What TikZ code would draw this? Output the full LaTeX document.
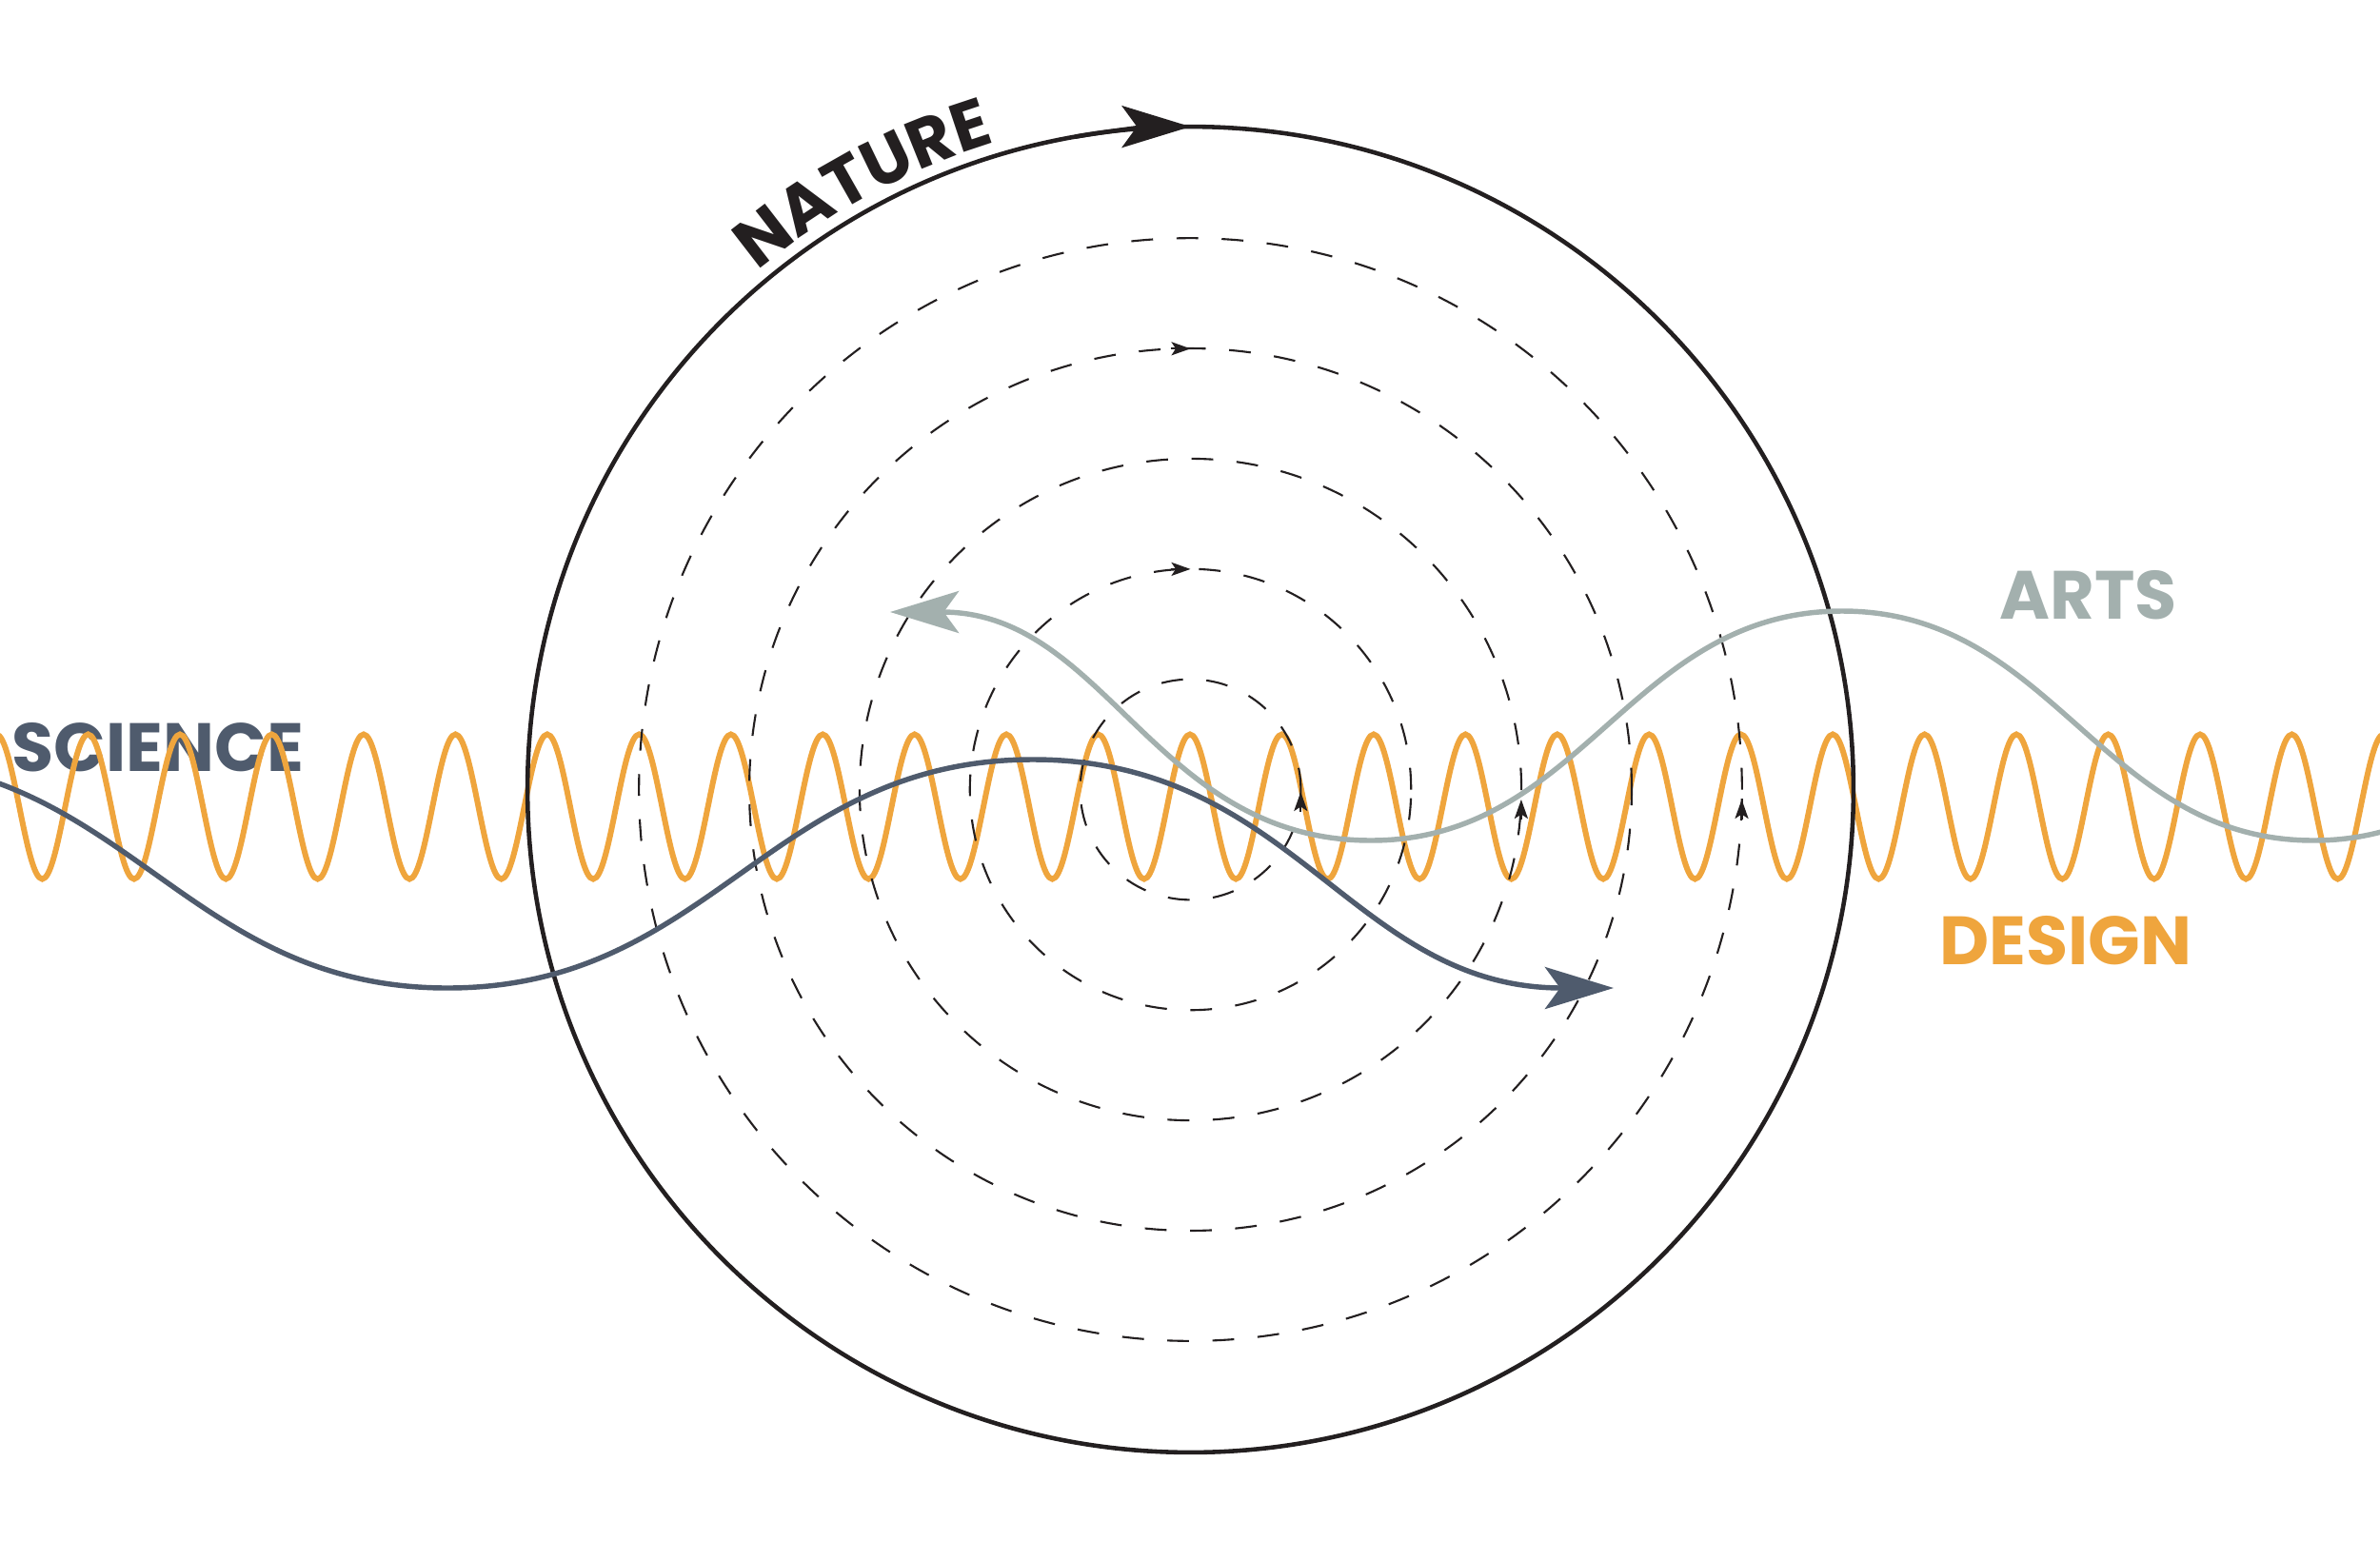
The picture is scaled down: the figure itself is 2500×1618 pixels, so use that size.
\documentclass[tikz,border=0pt]{standalone}
\usepackage{fontspec}
\setmainfont{Poppins}
\usetikzlibrary{arrows.meta,decorations.text}
\definecolor{orangeW}{HTML}{EFA53D}
\definecolor{slateS}{HTML}{4F5B6D}
\definecolor{grayA}{HTML}{A3B0AE}
\definecolor{inkK}{HTML}{231F20}
\begin{document}
\begin{tikzpicture}[x=0.01cm,y=-0.01cm,
  bigtip/.style={-{Stealth[length=20.5pt,width=12.5pt,inset=4.5pt]}},
  smalltip/.style={-{Stealth[length=5.7pt,width=4pt,inset=1.3pt]}},
  ring/.style={inkK,line width=0.6pt,dash pattern=on 6.5pt off 7pt},
  wordtag/.style={font=\fontsize{20.4}{24}\selectfont\bfseries,inner sep=0pt,anchor=base west},
  wave/.style={orangeW,line width=1.7pt},
  sciline/.style={slateS,line width=1.55pt},
  artline/.style={grayA,line width=1.55pt},
  rim/.style={inkK,line width=1.3pt}
]
\useasboundingbox (0,0) rectangle (2500,1618);
\fill[white] (0,0) rectangle (2500,1618);

% labels
\node[wordtag, text=slateS] (science) at (12,810.7) {SCIENCE};
\node[wordtag, text=grayA] (arts) at (2100,650) {ARTS};
\node[wordtag, text=orangeW] (design) at (2037,1013) {DESIGN};

\coordinate (O) at (1250.5,829.5);

\begin{scope}
\clip (0,0) rectangle (2500,1618);
% design wave
\draw[wave] ({1250-14*96.45},771.5)
  \foreach \k in {-14,...,13} {
    cos ({1250+(\k+0.25)*96.45},847.5)
    sin ({1250+(\k+0.5)*96.45},923.5)
    cos ({1250+(\k+0.75)*96.45},847.5)
    sin ({1250+(\k+1)*96.45},771.5)
  };

% dashed rings
\foreach \r in {1.158,2.316,3.474,4.632,5.79}
  \draw[ring] (O) circle[radius=\r cm];

% small arrows on rings
\coordinate (r4top) at (1250.5,366.3);
\coordinate (r2top) at (1250.5,597.9);
\coordinate (r1rt) at (1366.3,832);
\coordinate (r3rt) at (1597.9,840);
\coordinate (r5rt) at (1829.5,840);
\draw[smalltip, inkK, line width=0.6pt] ([xshift=-0.21cm]r4top) -- (r4top);
\draw[smalltip, inkK, line width=0.6pt] ([xshift=-0.21cm]r2top) -- (r2top);
\draw[smalltip, inkK, line width=0.6pt] ([yshift=-0.21cm]r1rt) -- (r1rt);
\draw[smalltip, inkK, line width=0.6pt] ([yshift=-0.21cm]r3rt) -- (r3rt);
\draw[smalltip, inkK, line width=0.6pt] ([yshift=-0.21cm]r5rt) -- (r5rt);

% nature circle with its arrow at the top
\coordinate (top) at (1250.5,133.5);
\draw[rim] (O) circle[radius=6.96cm];
\draw[rim, bigtip] (O) ++(100:6.96cm) arc[start angle=100, end angle=90, radius=6.96cm];

% arts curve
\coordinate (artStart) at (2925,642);
\coordinate (artTip) at (935,643);
\draw[artline, bigtip] (artStart)
  .. controls (2702,642) and (2653,883) .. (2430,883)
  .. controls (2207.25,883) and (2157.75,642) .. (1935,642)
  .. controls (1712.25,642) and (1662.75,883) .. (1440,883)
  .. controls (1212.75,883) and (1162.25,643) .. (artTip);

% science curve
\coordinate (sciStart) at (-145,798);
\coordinate (sciTip) at (1695,1038);
\draw[sciline, bigtip] (sciStart)
  .. controls (131.75,798) and (193.25,1038) .. (470,1038)
  .. controls (746.75,1038) and (808.25,798) .. (1085,798)
  .. controls (1359.5,798) and (1420.5,1038) .. (sciTip);
\end{scope}

% NATURE along the rim
\path[decorate, decoration={text along path, text align=center,
  text={|\fontsize{20.4}{24}\selectfont\bfseries\color{inkK}|NATURE}}]
  (748.5,327.5) arc[start angle=135, end angle=101.7, radius=7.10cm];
\end{tikzpicture}
\end{document}
